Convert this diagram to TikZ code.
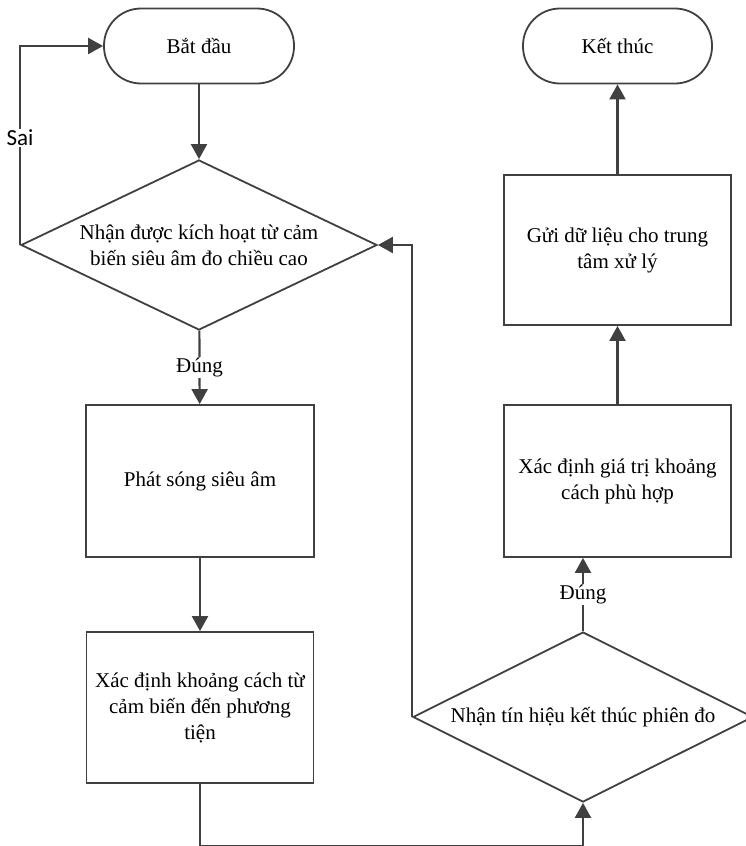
\documentclass[tikz,border=0pt]{standalone}
\usepackage{fontspec}
\setmainfont{Liberation Serif}
\newfontfamily\labelsans{Carlito}
\usepackage{xcolor}
\usepackage{tikz}
\usetikzlibrary{arrows.meta,shapes.geometric}

\definecolor{linegray}{HTML}{404040}

\begin{document}
\begin{tikzpicture}[
        x=1pt, y=-1pt,
        font=\fontsize{21}{26}\selectfont,
        line width=2.2pt,
        draw=linegray,
        term/.style={
            rectangle,
            draw=linegray,
            line width=1.8pt,
            rounded corners=37pt,
            align=center,
            minimum width=190pt,
            minimum height=75pt
        },
        stepbox/.style={
            rectangle,
            draw=linegray,
            line width=1.8pt,
            align=center,
            minimum width=227pt,
            minimum height=151pt
        },
        decision/.style={
            diamond,
            draw=linegray,
            line width=1.8pt,
            aspect=2.1,
            inner sep=0pt,
            align=center,
            minimum width=356pt,
            minimum height=170pt
        },
        flow/.style={
            draw=linegray,
            line width=2.2pt,
            -{Triangle[length=15pt,width=16pt]}
        },
        answer/.style={
            fill=white,
            inner sep=1pt
        }
    ]
    \useasboundingbox (0,0) rectangle (746,846);

    % ---------- Left column: measuring ----------
    \node[term] (start) at (199,46) {Bắt đầu};
    \node[decision] (trigger) at (199,245) {Nhận được kích hoạt từ cảm\\biến siêu âm đo chiều cao};
    \node[stepbox, minimum width=228pt, minimum height=152pt] (emit) at (200,481) {Phát sóng siêu âm};
    \node[stepbox] (dist) at (200,707.5) {Xác định khoảng cách từ\\cảm biến đến phương\\tiện};

    \draw[flow] (start) -- (trigger);
    \draw[flow] (trigger) -- node[answer] {Đúng} (emit);
    \draw[flow] (emit) -- (dist);
    \draw[flow] (trigger.west) |- node[answer, pos=0.27, font=\labelsans\fontsize{23}{27}\selectfont] {Sai} (start.west);

    % ---------- Right column: session end ----------
    \node[decision, minimum width=340pt] (endsig) at (583,717) {Nhận tín hiệu kết thúc phiên đo};
    \node[stepbox, minimum height=152pt] (fit) at (617.5,481) {Xác định giá trị khoảng\\cách phù hợp};
    \node[stepbox, minimum height=150pt] (send) at (617.5,250) {Gửi dữ liệu cho trung\\tâm xử lý};
    \node[term, minimum width=189pt] (stop) at (617.5,46) {Kết thúc};

    \draw[flow] (dist.south) -- ++(0,62) -| (endsig.south);
    \draw[flow] (endsig.north) -- node[answer] {Đúng} (endsig.north |- fit.south);
    \draw[flow] (fit) -- (send);
    \draw[flow] (send) -- (stop);
    \draw[flow] (endsig.west) |- (trigger.east);

\end{tikzpicture}
\end{document}
